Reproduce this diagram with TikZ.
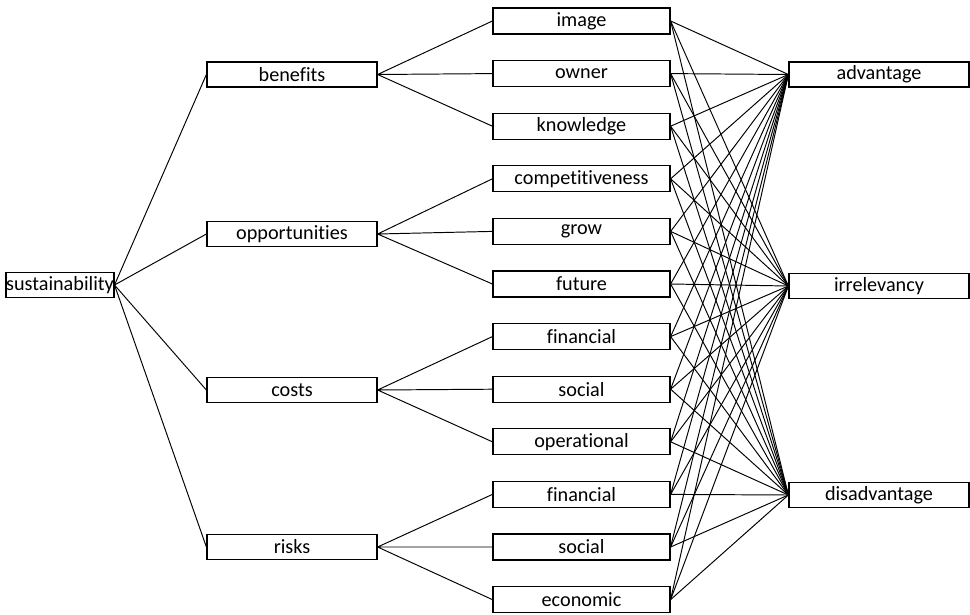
\documentclass[tikz,border=0pt]{standalone}
\usepackage{fontspec}
\setmainfont[Ligatures=NoCommon]{Carlito}
\tikzset{
  box/.style={draw, line width=0.7pt, rectangle, inner sep=0pt, minimum height=0.5cm, font=\fontsize{11.5}{13.5}\selectfont},
  link/.style={line width=0.55pt}
}
\begin{document}
\begin{tikzpicture}
				\useasboundingbox (0,0) rectangle (19.4,-12.3);
				% root
				\node[box, minimum width=2.12cm] (sust) at (1.2,-5.7) {sustainability};
				% categories
				\node[box, minimum width=3.4cm] (cat1) at (5.84,-1.49) {benefits};
				\node[box, minimum width=3.4cm] (cat2) at (5.84,-4.68) {opportunities};
				\node[box, minimum width=3.4cm] (cat3) at (5.84,-7.8) {costs};
				\node[box, minimum width=3.4cm] (cat4) at (5.84,-10.94) {risks};
				% factors
				\foreach \name [count=\i] in {image,owner,knowledge,competitiveness,grow,future,financial,social,operational,financial,social,economic}
					\node[box, minimum width=3.54cm, minimum height=0.52cm] (fac\i) at (11.63,{-0.42-(\i-1)*1.052}) {\name};
				% outcomes
				\node[box, minimum width=3.6cm] (res1) at (17.58,-1.49) {advantage};
				\node[box, minimum width=3.6cm] (res2) at (17.58,-5.72) {irrelevancy};
				\node[box, minimum width=3.6cm] (res3) at (17.58,-9.9) {disadvantage};
				% links
				\foreach \c in {1,...,4}
					\draw[link] (sust.east) -- (cat\c.west);
				\foreach \c/\a/\b/\d in {1/1/2/3,2/4/5/6,3/7/8/9,4/10/11/12}
					\draw[link] (cat\c.east) -- (fac\a.west) (cat\c.east) -- (fac\b.west) (cat\c.east) -- (fac\d.west);
				\foreach \i in {1,...,12}
					\foreach \r in {1,2,3}
						\draw[link] (fac\i.east) -- (res\r.west);
			\end{tikzpicture}
\end{document}
